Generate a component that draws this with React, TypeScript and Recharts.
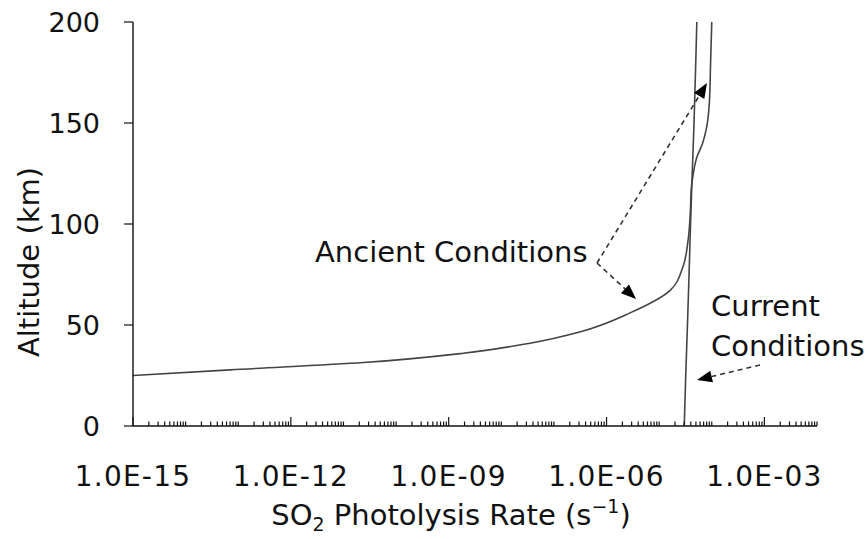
import { Line, LineChart, XAxis, YAxis } from 'recharts'

// altitude (km) vs SO2 photolysis rate (s^-1)
const ancientAlt = [25, 27.8, 31.4, 36, 41, 46.7, 56, 67, 79, 92, 105, 118, 125, 133, 140, 148, 160, 180, 200]
const ancientRate = [
  1e-15, 7e-14, 2.4e-11, 1.9e-9, 3.5e-8, 3.2e-7, 2.8e-6, 1.6e-5, 2.85e-5, 3.55e-5, 3.9e-5, 4.1e-5,
  4.45e-5, 5.2e-5, 6.7e-5, 8.0e-5, 9.0e-5, 9.5e-5, 1.0e-4,
]
const currentAlt = [0, 25, 50, 75, 100, 125, 150, 175, 200]
const currentRate = [3.0e-5, 3.2e-5, 3.45e-5, 3.7e-5, 3.95e-5, 4.25e-5, 4.6e-5, 4.9e-5, 5.2e-5]

const majorTicks = [1e-15, 1e-12, 1e-9, 1e-6, 1e-3]
const majorLabels = ['1.0E-15', '1.0E-12', '1.0E-09', '1.0E-06', '1.0E-03']
const decades = [-15, -14, -13, -12, -11, -10, -9, -8, -7, -6, -5, -4, -3]
const mantissas = [1, 2, 3, 4, 5, 6, 7, 8, 9]
const yTicks = [0, 50, 100, 150, 200]

const xTicks = decades.flatMap((d) => mantissas.map((m) => m * 10 ** d)).concat([1e-2])

const ancient = ancientAlt.map((alt, i) => ({ rate: ancientRate[i], alt }))
const current = currentAlt.map((alt, i) => ({ rate: currentRate[i], alt }))

const FONT = '"DejaVu Sans", Verdana, sans-serif'
const INK = '#111'

function majorIndex(v: number) {
  return majorTicks.findIndex((m) => Math.abs(Math.log10(m) - Math.log10(v)) < 1e-6)
}

function XTick(props: any) {
  const { x, y, payload } = props
  const i = majorIndex(payload.value)
  return (
    <g>
      <line x1={x} x2={x} y1={y} y2={y - (i >= 0 ? 9 : 4.5)} stroke={INK} strokeWidth={1.2} />
      {i >= 0 && (
        <text
          x={x}
          y={y + 60}
          textAnchor="middle"
          fontSize={28}
          letterSpacing={1.2}
          fontFamily={FONT}
          fill={INK}
        >
          {majorLabels[i]}
        </text>
      )}
    </g>
  )
}

function YTick(props: any) {
  const { x, y, payload } = props
  return (
    <g>
      <line x1={x - 9} x2={x} y1={y} y2={y} stroke={INK} strokeWidth={1.2} />
      <text x={x - 33} y={y + 10} textAnchor="end" fontSize={27} fontFamily={FONT} fill={INK}>
        {payload.value}
      </text>
    </g>
  )
}

function XTitle(props: any) {
  const { viewBox } = props
  const cx = viewBox.x + 318
  const by = viewBox.y + 99
  return (
    <text x={cx} y={by} textAnchor="middle" fontSize={29} fontFamily={FONT} fill={INK}>
      SO<tspan fontSize={19} dy={6}>2</tspan>
      <tspan dy={-6}> Photolysis Rate (s</tspan>
      <tspan fontSize={19} dy={-12}>−1</tspan>
      <tspan dy={12}>)</tspan>
    </text>
  )
}

function YTitle() {
  return (
    <text
      x={29}
      y={262}
      transform="rotate(-90 29 262)"
      textAnchor="middle"
      dominantBaseline="central"
      fontSize={29}
      fontFamily={FONT}
      fill={INK}
    >
      Altitude (km)
    </text>
  )
}

// dashed shaft + filled head, tip at (x2, y2)
function Arrow({ x1, y1, x2, y2 }: { x1: number; y1: number; x2: number; y2: number }) {
  const dx = x2 - x1
  const dy = y2 - y1
  const len = Math.hypot(dx, dy)
  const ux = dx / len
  const uy = dy / len
  const hl = 15
  const hw = 6
  const bx = x2 - ux * hl
  const by = y2 - uy * hl
  const pts = `${x2},${y2} ${bx - uy * hw},${by + ux * hw} ${bx + uy * hw},${by - ux * hw}`
  return (
    <g>
      <line x1={x1} y1={y1} x2={bx} y2={by} stroke="#333" strokeWidth={1.6} strokeDasharray="5 4" />
      <polygon points={pts} fill="#000" />
    </g>
  )
}

function Annotations() {
  return (
    <svg
      width={867}
      height={539}
      style={{ position: 'absolute', left: 0, top: 0, pointerEvents: 'none' }}
    >
      <text x={315} y={262} fontSize={29} fontFamily={FONT} fill={INK}>
        Ancient Conditions
      </text>
      <Arrow x1={597} y1={263} x2={707} y2={83} />
      <Arrow x1={597} y1={263} x2={636} y2={299} />
      <text x={711} y={316} fontSize={29} fontFamily={FONT} fill={INK}>
        Current
      </text>
      <text x={711} y={356} fontSize={29} fontFamily={FONT} fill={INK}>
        Conditions
      </text>
      <Arrow x1={760} y1={365} x2={697} y2={380} />
    </svg>
  )
}

export default function App() {
  return (
    <div style={{ position: 'absolute', left: 0, top: 0, width: 867, height: 539, background: '#fff' }}>
      <LineChart width={867} height={539} margin={{ top: 22, right: 50, bottom: 0, left: 0 }}>
        <XAxis
          dataKey="rate"
          type="number"
          scale="log"
          domain={[1e-15, 1e-2]}
          allowDataOverflow
          ticks={xTicks}
          interval={0}
          tick={<XTick />}
          tickLine={false}
          tickSize={0}
          tickMargin={0}
          axisLine={{ stroke: INK, strokeWidth: 1.4 }}
          height={113}
          label={<XTitle />}
        />
        <YAxis
          type="number"
          domain={[0, 200]}
          ticks={yTicks}
          interval={0}
          tick={<YTick />}
          tickLine={false}
          tickSize={0}
          tickMargin={0}
          axisLine={{ stroke: INK, strokeWidth: 1.4 }}
          width={133}
          label={<YTitle />}
        />
        <Line
          data={ancient}
          dataKey="alt"
          type="monotoneY"
          stroke="#444"
          strokeWidth={1.6}
          dot={false}
          isAnimationActive={false}
        />
        <Line
          data={current}
          dataKey="alt"
          type="monotoneY"
          stroke="#444"
          strokeWidth={1.6}
          dot={false}
          isAnimationActive={false}
        />
      </LineChart>
      <Annotations />
    </div>
  )
}
